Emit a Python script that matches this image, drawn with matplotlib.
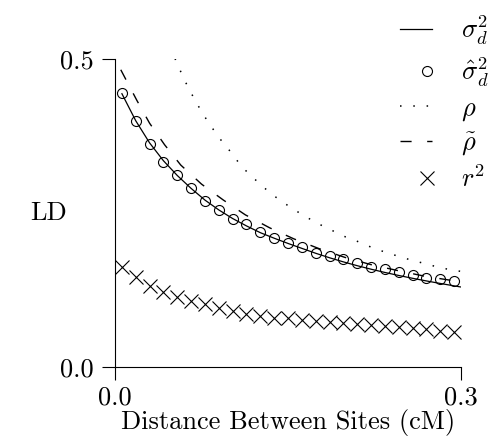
import numpy as np
import matplotlib
matplotlib.use("Agg")
import matplotlib.pyplot as plt
from matplotlib.legend_handler import HandlerLine2D

plt.rcParams["font.family"] = "serif"
plt.rcParams["font.serif"] = ["cmr10"]
plt.rcParams["mathtext.fontset"] = "cm"
plt.rcParams["axes.unicode_minus"] = False
plt.rcParams["font.size"] = 19

# distances (cM) of the simulated points
dist = [0.006, 0.018, 0.030, 0.042, 0.054, 0.066, 0.078, 0.090, 0.102,
        0.114, 0.126, 0.138, 0.150, 0.162, 0.174, 0.186, 0.198, 0.210,
        0.222, 0.234, 0.246, 0.258, 0.270, 0.282, 0.294]

# sigma_d^2 (theory, solid line)
sigma_x = dist + [0.300]
sigma_d2 = [0.444, 0.400, 0.364, 0.335, 0.311, 0.290, 0.271, 0.255, 0.241,
            0.229, 0.218, 0.209, 0.2005, 0.1925, 0.1845, 0.1772, 0.1705,
            0.1643, 0.1586, 0.1533, 0.1484, 0.1438, 0.1395, 0.1354, 0.1315,
            0.1296]

# sigma_d^2 estimate (circles)
sigma_hat = [0.4447, 0.4001, 0.3622, 0.3334, 0.3118, 0.2902, 0.2695, 0.2549,
             0.2407, 0.2316, 0.2196, 0.2098, 0.2007, 0.1952, 0.1854, 0.1805,
             0.1752, 0.1692, 0.1627, 0.1584, 0.1545, 0.1492, 0.1448, 0.1422,
             0.1394]

# rho (dotted)
rho_x = [0.04, 0.05, 0.06, 0.07, 0.08, 0.09, 0.10, 0.11, 0.12, 0.13, 0.14,
         0.15, 0.16, 0.17, 0.18, 0.19, 0.20, 0.21, 0.22, 0.23, 0.24, 0.25,
         0.26, 0.27, 0.28, 0.29, 0.30]
rho = [0.562, 0.510, 0.467, 0.431, 0.400, 0.373, 0.350, 0.325, 0.307, 0.290,
       0.275, 0.262, 0.250, 0.239, 0.229, 0.220, 0.211, 0.204, 0.196, 0.189,
       0.183, 0.177, 0.172, 0.167, 0.162, 0.158, 0.155]

# rho tilde (dashed)
rhot_x = [0.005, 0.019, 0.030, 0.043, 0.057, 0.075, 0.094, 0.113, 0.134,
          0.155, 0.177, 0.199, 0.222, 0.246, 0.269, 0.293, 0.300]
rho_tilde = [0.483, 0.433, 0.396, 0.361, 0.328, 0.297, 0.271, 0.247, 0.226,
             0.208, 0.192, 0.178, 0.166, 0.156, 0.147, 0.140, 0.138]

# r^2 (crosses)
r2 = [0.1627, 0.1464, 0.1318, 0.1220, 0.1139, 0.1074, 0.1015, 0.0950,
      0.0906, 0.0857, 0.0825, 0.0797, 0.0785, 0.0765, 0.0748, 0.0732,
      0.0716, 0.0695, 0.0678, 0.0662, 0.0651, 0.0625, 0.0608, 0.0586, 0.0569]


# legend handler that puts the marker near the right end of the handle
class RightMarker(HandlerLine2D):
    def create_artists(self, legend, orig_handle, xdescent, ydescent,
                       width, height, fontsize, trans):
        arts = super().create_artists(legend, orig_handle, xdescent, ydescent,
                                      width, height, fontsize, trans)
        for a in arts:
            x = np.asarray(a.get_xdata(), dtype=float)
            a.set_xdata(np.full_like(x, x[0] + 0.84 * (x[-1] - x[0])))
        return arts


fig = plt.figure(figsize=(4.96, 4.38), dpi=100)
ax = fig.add_axes([115 / 496, 71.3 / 438, 346 / 496, 307.4 / 438])

l1, = ax.plot(sigma_x, sigma_d2, color="black", lw=0.9)
l2, = ax.plot(dist, sigma_hat, ls="none", marker="o", ms=7.2,
              mfc="none", mec="black", mew=0.8)
l3, = ax.plot(rho_x, rho, color="black", lw=1.1, ls=(0, (1, 7.7)))
l4, = ax.plot(rhot_x, rho_tilde, color="black", lw=1.0, ls=(0, (8, 11.2)))
l5, = ax.plot(dist, r2, ls="none", marker="x", ms=9.5, mec="black", mew=0.8)

ax.set_xlim(0, 0.3)
ax.set_ylim(0, 0.5)
ax.set_xticks([0, 0.3])
ax.set_xticklabels(["0.0", "0.3"])
ax.set_yticks([0, 0.5])
ax.set_yticklabels(["0.0", "0.5"])
for side in ["top", "right"]:
    ax.spines[side].set_visible(False)
for side in ["left", "bottom"]:
    ax.spines[side].set_linewidth(0.8)
ax.tick_params(direction="out", length=9.4, width=0.8, pad=6)
ax.tick_params(axis="x", pad=4)

ax.set_xlabel("Distance Between Sites (cM)", labelpad=0)
ax.set_ylabel("LD", rotation=0, ha="right", va="center")
ax.yaxis.set_label_coords(-0.138, 0.5)

leg = fig.legend([l1, l2, l3, l4, l5],
                 [r"$\sigma_d^2$", r"$\hat{\sigma}_d^2$", r"$\rho$",
                  r"$\tilde{\rho}$", r"$r^2$"],
                 loc="upper left", bbox_to_anchor=(400 / 496, 1 - 14 / 438),
                 frameon=False, borderpad=0, borderaxespad=0,
                 handlelength=1.2, handletextpad=1.1, labelspacing=0.3,
                 handler_map={l2: RightMarker(), l5: RightMarker()})

fig.savefig("out.png", dpi=100)
